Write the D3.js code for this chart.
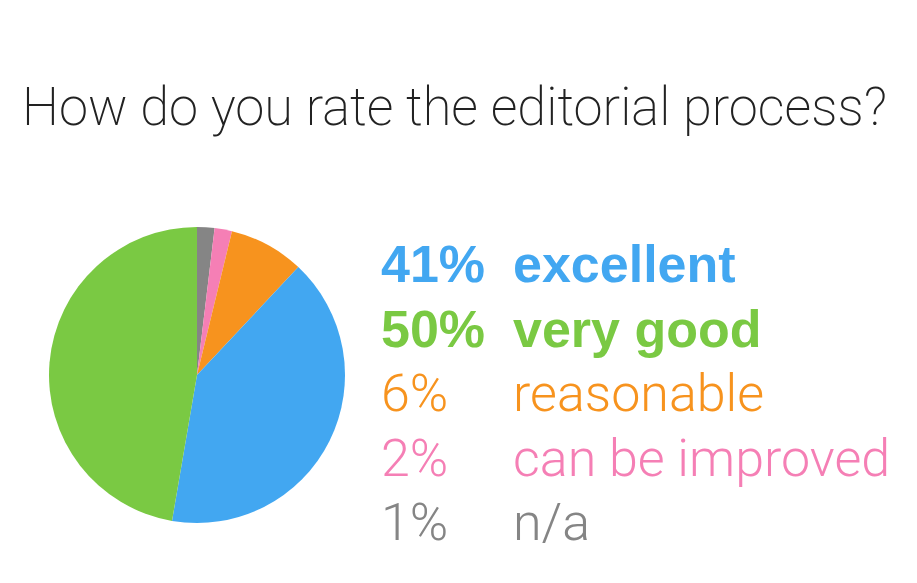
<!DOCTYPE html>
<html>
<head>
<meta charset="utf-8">
<script src="https://cdn.jsdelivr.net/npm/d3@7"></script>
<style>
  body { margin: 0; background: #fff; }
</style>
</head>
<body>
<div id="chart"></div>
<script>
// slices in drawing order, clockwise from 12 o'clock
var categories = ["n/a", "can be improved", "reasonable", "excellent", "very good"];
var shares = [1.9, 1.9, 8.2, 40.7, 47.3];   // share of the pie as drawn
var colours = ["#858585", "#F57FB5", "#F7931E", "#42A7F1", "#7AC943"];

// legend, top to bottom
var legendNames = ["excellent", "very good", "reasonable", "can be improved", "n/a"];
var legendPct = ["41%", "50%", "6%", "2%", "1%"];
var legendBold = [true, true, false, false, false];

var width = 917, height = 583;

var colour = d3.scaleOrdinal()
    .domain(categories)
    .range(colours);

var svg = d3.select("#chart")
    .append("svg")
    .attr("width", width)
    .attr("height", height);

svg.append("text")
    .attr("x", 22)
    .attr("y", 125)
    .style("font-family", "Roboto, sans-serif")
    .style("font-size", "54px")
    .style("font-weight", 200)
    .style("fill", "#222")
    .attr("textLength", 865)
    .attr("lengthAdjust", "spacingAndGlyphs")
    .text("How do you rate the editorial process?");

var pie = d3.pie().sort(null)
    .value(function (d, i) { return shares[i]; });

var arc = d3.arc().innerRadius(0).outerRadius(148);

svg.append("g")
    .attr("transform", "translate(197,375)")
    .selectAll("path")
    .data(pie(categories))
    .enter()
    .append("path")
    .attr("d", arc)
    .style("fill", function (d) { return colour(d.data); });

var y = d3.scalePoint()
    .domain(legendNames)
    .range([282, 540]);

var rows = svg.selectAll("g.row")
    .data(legendNames)
    .enter()
    .append("g")
    .attr("class", "row")
    .style("fill", function (d) { return colour(d); })
    // bold rows in Arial-metric bold, light rows in Roboto Light
    .style("font-family", function (d, i) {
        return legendBold[i] ? "'Liberation Sans', Arial, sans-serif" : "Roboto, sans-serif";
    })
    .style("font-size", "52px")
    .style("font-weight", function (d, i) { return legendBold[i] ? 700 : 300; });

rows.append("text")
    .attr("x", 381)
    .attr("y", function (d) { return y(d); })
    .text(function (d, i) { return legendPct[i]; });

rows.append("text")
    .attr("x", 513)
    .attr("y", function (d) { return y(d); })
    .text(function (d) { return d; });
</script>
</body>
</html>
